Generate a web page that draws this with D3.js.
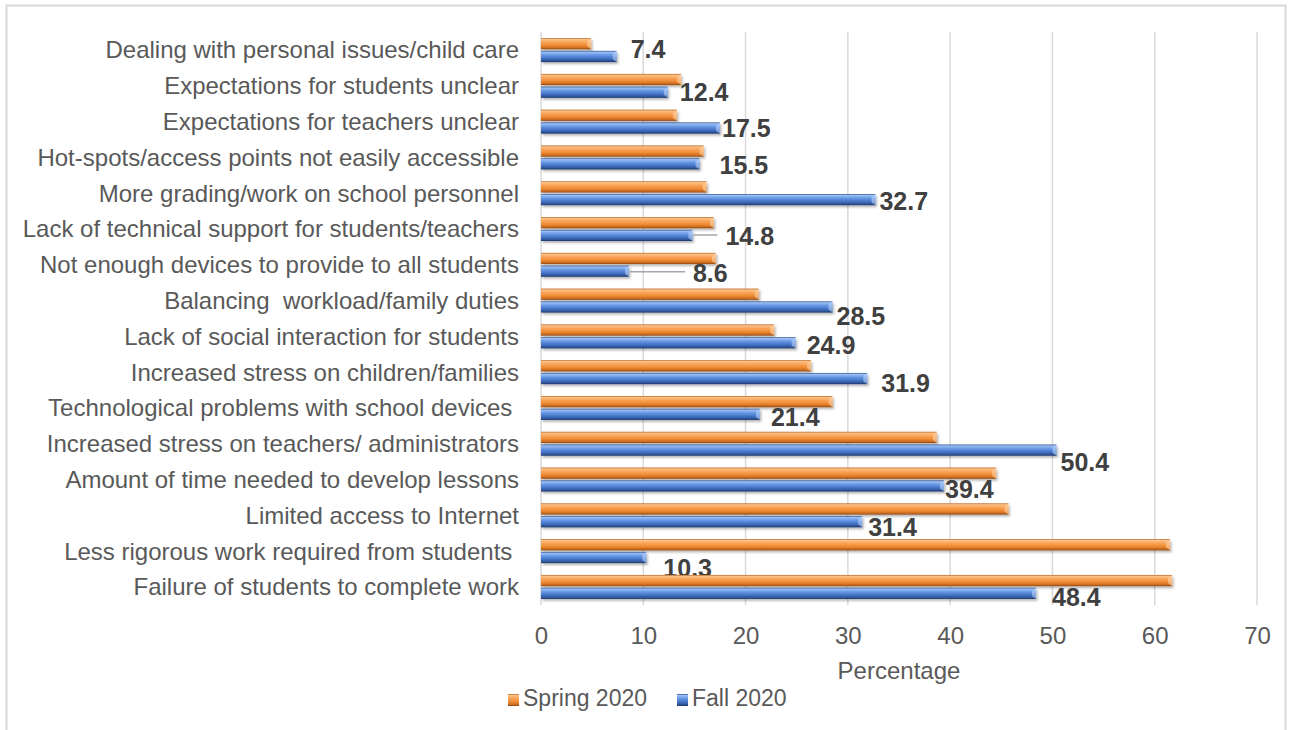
<!DOCTYPE html>
<html>
<head>
<meta charset="utf-8">
<script src="https://cdn.jsdelivr.net/npm/d3@7"></script>
<style>
  body { margin: 0; background: #fff; }
  svg text { font-family: "Liberation Sans", Arial, sans-serif; white-space: pre; }
</style>
</head>
<body>
<div class="chart"></div>
<script>
// data, top row first
var categories = [
  "Dealing with personal issues/child care",
  "Expectations for students unclear",
  "Expectations for teachers unclear",
  "Hot-spots/access points not easily accessible",
  "More grading/work on school personnel",
  "Lack of technical support for students/teachers",
  "Not enough devices to provide to all students",
  "Balancing  workload/family duties",
  "Lack of social interaction for students",
  "Increased stress on children/families",
  "Technological problems with school devices ",
  "Increased stress on teachers/ administrators",
  "Amount of time needed to develop lessons",
  "Limited access to Internet",
  "Less rigorous work required from students ",
  "Failure of students to complete work"
];
var spring2020 = [4.9, 13.7, 13.3, 15.9, 16.2, 16.9, 17.1, 21.3, 22.8, 26.4, 28.5, 38.7, 44.5, 45.7, 61.5, 61.7];
var fall2020 = [7.4, 12.4, 17.5, 15.5, 32.7, 14.8, 8.6, 28.5, 24.9, 31.9, 21.4, 50.4, 39.4, 31.4, 10.3, 48.4];
var seriesNames = ["Spring 2020", "Fall 2020"];
var xTicks = [0, 10, 20, 30, 40, 50, 60, 70];

// hand-placed data label offsets (px) from the blue bar end / row centre
var labelNudge = [[14, -1], [12, 6], [2, 7], [20, 8], [4, 8], [33, 7], [64, 8], [4, 16],
                  [11, 9], [14, 11], [11, 9], [4, 18], [1, 10], [6, 12], [17, 17], [16, 10]];

var width = 1295, height = 730;
var margin = {top: 32, right: 38, bottom: 125, left: 541};
var plotW = 1257 - margin.left;
var plotH = 605 - margin.top;

var svg = d3.select('.chart')
  .append('svg')
    .attr('width', width)
    .attr('height', height);

var defs = svg.append('defs');

function barGradient(id, stops) {
  var g = defs.append('linearGradient')
    .attr('id', id)
    .attr('x1', 0).attr('y1', 0).attr('x2', 0).attr('y2', 1);
  stops.forEach(function(s) {
    g.append('stop').attr('offset', s[0]).attr('stop-color', s[1]);
  });
}
barGradient('grad-spring', [[0, '#b9601c'], [0.12, '#fbc288'], [0.35, '#f9a55a'], [0.65, '#ef8b34'], [0.88, '#c96a1f'], [1, '#8a4511']]);
barGradient('grad-fall', [[0, '#2c4f8f'], [0.12, '#9dbff3'], [0.35, '#6a9be6'], [0.65, '#4574c9'], [0.88, '#2f5597'], [1, '#1d3566']]);

var shadow = defs.append('filter').attr('id', 'shadow')
  .attr('x', '-5%').attr('y', '-30%').attr('width', '110%').attr('height', '180%');
shadow.append('feDropShadow')
  .attr('dx', 1.5).attr('dy', 2).attr('stdDeviation', 1)
  .attr('flood-color', '#000').attr('flood-opacity', 0.28);

// chart border
svg.append('rect')
  .attr('x', 6.5).attr('y', 5.5)
  .attr('width', 1279).attr('height', 740)
  .attr('fill', 'none')
  .attr('stroke', '#d9d9d9')
  .attr('stroke-width', 2);

var g = svg.append('g')
  .attr('transform', 'translate(' + margin.left + ',' + margin.top + ')');

var x = d3.scaleLinear().domain([0, 70]).range([0, plotW]);
var y = d3.scaleBand().domain(categories).range([0, plotH]).paddingInner(0.33).paddingOuter(0.17);
var ySeries = d3.scaleBand().domain(seriesNames).range([0, y.bandwidth()]).paddingInner(0.12);

// gridlines
g.selectAll('.grid')
  .data(xTicks.slice(1))
  .enter()
  .append('line')
    .attr('x1', function(d) { return x(d); })
    .attr('x2', function(d) { return x(d); })
    .attr('y1', 0)
    .attr('y2', plotH)
    .attr('stroke', '#d9d9d9')
    .attr('stroke-width', 1.5);

// category axis line
g.append('line')
  .attr('x1', 0).attr('x2', 0)
  .attr('y1', 0).attr('y2', plotH)
  .attr('stroke', '#d9d9d9')
  .attr('stroke-width', 1.5);

var rows = categories.map(function(c, i) {
  return {cat: c, values: [spring2020[i], fall2020[i]], nudge: labelNudge[i]};
});

var rowG = g.selectAll('.row')
  .data(rows)
  .enter()
  .append('g')
    .attr('class', 'row')
    .attr('transform', function(d) { return 'translate(0,' + y(d.cat) + ')'; });

var fills = ['url(#grad-spring)', 'url(#grad-fall)'];
var ends = ['#fdd3a8', '#b9d2f8'];

rowG.selectAll('rect.bar')
  .data(function(d) { return d.values.map(function(v, k) { return {v: v, k: k}; }); })
  .enter()
  .append('rect')
    .attr('class', 'bar')
    .attr('x', 0)
    .attr('y', function(d) { return ySeries(seriesNames[d.k]); })
    .attr('width', function(d) { return x(d.v); })
    .attr('height', ySeries.bandwidth())
    .attr('fill', function(d) { return fills[d.k]; })
    .attr('filter', 'url(#shadow)');

// bevelled bar ends
rowG.selectAll('path.end')
  .data(function(d) { return d.values.map(function(v, k) { return {v: v, k: k}; }); })
  .enter()
  .append('path')
    .attr('class', 'end')
    .attr('d', function(d) {
      var x1 = x(d.v), y0 = ySeries(seriesNames[d.k]), h = ySeries.bandwidth();
      return 'M' + (x1 - 4) + ',' + (y0 + 3) + 'L' + x1 + ',' + y0 + 'L' + x1 + ',' + (y0 + h) + 'L' + (x1 - 4) + ',' + (y0 + h - 3) + 'Z';
    })
    .attr('fill', function(d) { return ends[d.k]; })
    .attr('opacity', 0.6);

// leader lines for labels pushed away from the bar
rowG.filter(function(d) { return d.nudge[0] > 25; })
  .append('line')
    .attr('x1', function(d) { return x(d.values[1]) + 1; })
    .attr('x2', function(d) { return x(d.values[1]) + d.nudge[0] - 8; })
    .attr('y1', function(d) { return y.bandwidth() / 2 + d.nudge[1] - 1; })
    .attr('y2', function(d) { return y.bandwidth() / 2 + d.nudge[1] - 1; })
    .attr('stroke', '#a6a6a6')
    .attr('stroke-width', 1.5);

// data labels (Fall 2020 only)
rowG.append('text')
  .attr('x', function(d) { return x(d.values[1]) + d.nudge[0]; })
  .attr('y', function(d) { return y.bandwidth() / 2 + d.nudge[1]; })
  .attr('dy', '0.35em')
  .attr('font-size', 25)
  .attr('font-weight', 'bold')
  .attr('fill', '#404040')
  .text(function(d) { return d.values[1].toFixed(1); });

// category labels
g.selectAll('.cat')
  .data(categories)
  .enter()
  .append('text')
    .attr('x', -22)
    .attr('y', function(d) { return y(d) + y.bandwidth() / 2; })
    .attr('dy', '0.35em')
    .attr('text-anchor', 'end')
    .attr('font-size', 24)
    .attr('fill', '#595959')
    .text(function(d) { return d; });

// x axis
var xAxis = g.append('g')
  .attr('transform', 'translate(0,' + plotH + ')')
  .call(d3.axisBottom(x).tickValues(xTicks).tickSize(0).tickPadding(22));
xAxis.select('.domain').remove();
xAxis.selectAll('text')
  .attr('font-size', 24)
  .attr('font-family', '"Liberation Sans", Arial, sans-serif')
  .attr('fill', '#595959');

g.append('text')
  .attr('x', plotW / 2)
  .attr('y', 679 - margin.top)
  .attr('text-anchor', 'middle')
  .attr('font-size', 24)
  .attr('fill', '#595959')
  .text('Percentage');

// legend
var legend = svg.append('g').attr('transform', 'translate(508,706)');
var legendX = [0, 169];
seriesNames.forEach(function(name, k) {
  var lg = legend.append('g').attr('transform', 'translate(' + legendX[k] + ',0)');
  lg.append('rect')
    .attr('x', 0).attr('y', -12)
    .attr('width', 11).attr('height', 12)
    .attr('fill', fills[k]);
  lg.append('text')
    .attr('x', 15)
    .attr('y', 0)
    .attr('font-size', 23)
    .attr('fill', '#595959')
    .text(name);
});
</script>
</body>
</html>
